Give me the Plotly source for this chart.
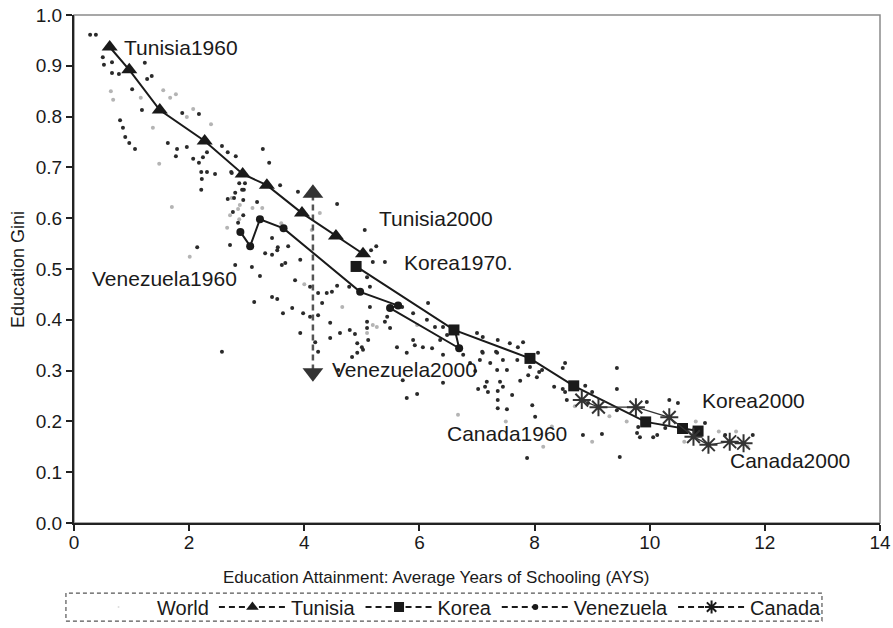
import plotly.graph_objects as go

# Country trajectories (average years of schooling vs. education Gini)
tunisia_x = [0.62, 0.96, 1.49, 2.27, 2.93, 3.35, 3.96, 4.55, 5.02]
tunisia_y = [0.937, 0.892, 0.813, 0.752, 0.687, 0.665, 0.610, 0.565, 0.530]

korea_x = [4.90, 6.60, 7.92, 8.68, 9.93, 10.57, 10.84]
korea_y = [0.505, 0.380, 0.324, 0.270, 0.199, 0.186, 0.181]

venezuela_x = [2.89, 3.06, 3.23, 3.64, 4.97, 5.63, 5.49, 6.69, 6.62]
venezuela_y = [0.573, 0.545, 0.598, 0.580, 0.455, 0.428, 0.423, 0.344, 0.378]

canada_x = [8.82, 9.11, 9.76, 10.34, 10.76, 11.02, 11.39, 11.63]
canada_y = [0.242, 0.228, 0.228, 0.208, 0.170, 0.154, 0.160, 0.157]

# World country-year observations
world_x = [0.28, 0.38, 0.50, 0.52, 0.66, 0.66, 0.78, 1.01, 1.23, 1.27, 1.35, 1.18,
           0.80, 0.85, 0.89, 0.96, 1.06, 1.63, 1.79, 1.77, 1.88, 2.17, 1.96, 2.07,
           2.17, 2.24, 2.21, 2.22, 2.31, 2.45, 2.57, 2.67, 2.81, 2.73, 2.87, 2.97,
           2.95, 2.80, 3.28, 3.39, 3.58, 3.89, 4.57, 2.67, 2.76, 2.94, 2.85, 2.14,
           2.71, 3.44, 3.54, 3.72, 2.21, 2.92, 2.94, 3.32, 3.44, 2.80, 3.09, 3.23,
           3.44, 3.53, 3.13, 2.57, 2.31, 2.74, 2.78, 3.18, 3.53, 3.61, 3.67, 3.93,
           5.05, 5.25, 5.16, 5.19, 5.40, 3.84, 4.10, 4.57, 4.48, 4.39, 4.24, 4.78,
           3.79, 3.98, 4.10, 4.24, 3.63, 4.88, 5.09, 5.11, 4.92, 5.02, 4.45, 4.19,
           4.24, 3.93, 4.83, 4.31, 5.09, 5.14, 4.45, 4.79, 4.62, 5.09, 5.14, 5.44,
           5.40, 5.49, 5.89, 6.15, 6.13, 6.27, 6.41, 6.48, 6.36, 5.61, 5.78, 5.89,
           6.06, 6.22, 7.00, 7.10, 7.36, 7.57, 7.71, 7.80, 8.06, 7.35, 7.10, 7.45,
           7.23, 7.70, 7.92, 8.13, 8.04, 5.00, 4.92, 4.59, 5.70, 8.53, 9.43, 5.92,
           6.41, 6.76, 7.09, 7.33, 6.88, 7.05, 5.71, 5.78, 5.96, 6.41, 6.97, 7.35,
           7.52, 7.89, 8.08, 7.75, 7.40, 7.17, 7.14, 7.02, 7.19, 7.36, 7.45, 7.61,
           7.36, 7.36, 7.52, 7.96, 8.01, 8.34, 8.49, 8.56, 8.88, 9.00, 9.43, 8.84,
           9.17, 9.48, 7.87, 9.78, 9.80, 10.06, 10.34, 10.49, 10.96, 10.27, 10.58,
           11.79, 8.49, 8.53, 8.93, 9.43, 9.95, 9.83, 10.13, 11.31]
world_y = [0.961, 0.961, 0.917, 0.902, 0.907, 0.886, 0.884, 0.854, 0.906, 0.874, 0.880, 0.813,
           0.793, 0.778, 0.760, 0.748, 0.736, 0.748, 0.736, 0.722, 0.807, 0.805, 0.740, 0.717,
           0.709, 0.720, 0.691, 0.677, 0.730, 0.687, 0.742, 0.730, 0.722, 0.691, 0.669, 0.669,
           0.656, 0.650, 0.736, 0.709, 0.665, 0.652, 0.628, 0.638, 0.612, 0.606, 0.591, 0.543,
           0.547, 0.561, 0.543, 0.545, 0.656, 0.656, 0.636, 0.531, 0.528, 0.508, 0.504, 0.486,
           0.445, 0.441, 0.435, 0.337, 0.691, 0.689, 0.640, 0.632, 0.537, 0.508, 0.512, 0.518,
           0.577, 0.545, 0.537, 0.514, 0.514, 0.478, 0.465, 0.467, 0.455, 0.453, 0.453, 0.465,
           0.423, 0.413, 0.406, 0.409, 0.413, 0.372, 0.384, 0.360, 0.354, 0.341, 0.364, 0.356,
           0.337, 0.374, 0.327, 0.433, 0.484, 0.465, 0.394, 0.380, 0.374, 0.396, 0.425, 0.406,
           0.396, 0.384, 0.413, 0.433, 0.400, 0.386, 0.386, 0.370, 0.360, 0.346, 0.335, 0.360,
           0.346, 0.344, 0.374, 0.366, 0.360, 0.354, 0.346, 0.356, 0.335, 0.335, 0.335, 0.321,
           0.315, 0.321, 0.307, 0.301, 0.287, 0.346, 0.335, 0.301, 0.425, 0.315, 0.305, 0.350,
           0.331, 0.331, 0.337, 0.337, 0.315, 0.321, 0.281, 0.246, 0.254, 0.276, 0.299, 0.301,
           0.301, 0.291, 0.297, 0.280, 0.278, 0.278, 0.268, 0.264, 0.258, 0.260, 0.268, 0.252,
           0.242, 0.226, 0.224, 0.232, 0.209, 0.268, 0.264, 0.242, 0.270, 0.258, 0.264, 0.173,
           0.175, 0.130, 0.128, 0.177, 0.189, 0.169, 0.242, 0.236, 0.197, 0.187, 0.183,
           0.173, 0.305, 0.258, 0.236, 0.222, 0.238, 0.169, 0.173, 0.173]

# Lighter-printed observations of the same world sample
world_faint_x = [0.64, 0.68, 1.16, 1.55, 1.67, 1.77, 1.37, 1.48, 1.96, 2.07, 2.38,
                 4.27, 4.13, 2.88, 2.66, 1.70, 2.74, 2.85, 2.71, 2.87, 3.27, 2.01,
                 4.66, 5.09, 5.26, 5.96, 5.19, 6.67, 8.15, 8.70, 9.30, 9.60, 10.80,
                 11.20, 11.50, 11.70, 8.30, 9.00, 10.60, 7.50, 3.60, 3.10, 4.00]
world_faint_y = [0.850, 0.833, 0.837, 0.852, 0.837, 0.844, 0.778, 0.707, 0.799, 0.815, 0.785,
                 0.610, 0.577, 0.626, 0.581, 0.622, 0.640, 0.618, 0.606, 0.598, 0.620, 0.524,
                 0.425, 0.374, 0.386, 0.390, 0.390, 0.213, 0.150, 0.230, 0.210, 0.200, 0.200,
                 0.180, 0.180, 0.150, 0.190, 0.160, 0.160, 0.200, 0.590, 0.620, 0.470]

# Range of Gini values spanned at about four years of schooling
spread_x = 4.15
spread_lo, spread_hi = 0.28, 0.665

# Endpoint labels
label_text = ["Tunisia1960", "Tunisia2000", "Korea1970.", "Venezuela1960",
              "Venezuela2000", "Canada1960", "Korea2000", "Canada2000"]
label_x = [0.84, 5.26, 5.70, 0.28, 4.45, 6.44, 10.87, 11.36]
label_y = [0.937, 0.600, 0.512, 0.482, 0.303, 0.177, 0.242, 0.124]

series_names = ["World", "Tunisia", "Korea", "Venezuela", "Canada"]
x_ticks = [0, 2, 4, 6, 8, 10, 12, 14]
y_ticks = [round(0.1 * i, 1) for i in range(11)]

FONT = "Liberation Sans, Arial, sans-serif"
INK = "#1a1a1a"

fig = go.Figure()

fig.add_trace(go.Scatter(x=world_faint_x, y=world_faint_y, mode="markers",
                         marker=dict(size=4, color="#b4b4b4"), showlegend=False,
                         hoverinfo="skip"))
fig.add_trace(go.Scatter(x=world_x, y=world_y, mode="markers",
                         marker=dict(size=4, color="#2a2a2a"), showlegend=False))

# dashed spread arrow
fig.add_trace(go.Scatter(x=[spread_x, spread_x], y=[spread_lo + 0.02, spread_hi - 0.02],
                         mode="lines", line=dict(color="#555555", width=2.5, dash="6px,4px"),
                         showlegend=False, hoverinfo="skip"))
fig.add_trace(go.Scatter(x=[spread_x], y=[spread_hi - 0.016], mode="markers",
                         marker=dict(symbol="triangle-up", size=18, color="#333333"),
                         showlegend=False, hoverinfo="skip"))
fig.add_trace(go.Scatter(x=[spread_x], y=[spread_lo + 0.016], mode="markers",
                         marker=dict(symbol="triangle-down", size=18, color="#333333"),
                         showlegend=False, hoverinfo="skip"))

fig.add_trace(go.Scatter(x=venezuela_x, y=venezuela_y, mode="lines+markers",
                         line=dict(color=INK, width=2),
                         marker=dict(symbol="circle", size=8, color=INK),
                         showlegend=False))
fig.add_trace(go.Scatter(x=korea_x, y=korea_y, mode="lines+markers",
                         line=dict(color=INK, width=2),
                         marker=dict(symbol="square", size=11, color=INK),
                         showlegend=False))
fig.add_trace(go.Scatter(x=tunisia_x, y=tunisia_y, mode="lines+markers",
                         line=dict(color=INK, width=2),
                         marker=dict(symbol="triangle-up", size=14, color=INK),
                         showlegend=False))
fig.add_trace(go.Scatter(x=canada_x, y=canada_y, mode="lines+markers",
                         line=dict(color="#333333", width=1.3),
                         marker=dict(symbol="asterisk-open", size=15,
                                     line=dict(color=INK, width=2)),
                         showlegend=False))

# legend entries
legend_styles = [
    dict(mode="markers", marker=dict(size=2, color="#dddddd")),
    dict(mode="lines+markers", line=dict(color=INK, width=2, dash="6px,4px"),
         marker=dict(symbol="triangle-up", size=11, color=INK)),
    dict(mode="lines+markers", line=dict(color=INK, width=2, dash="6px,4px"),
         marker=dict(symbol="square", size=10, color=INK)),
    dict(mode="lines+markers", line=dict(color=INK, width=2, dash="6px,4px"),
         marker=dict(symbol="circle", size=6, color=INK)),
    dict(mode="lines+markers", line=dict(color=INK, width=2, dash="6px,4px"),
         marker=dict(symbol="asterisk-open", size=11, line=dict(color=INK, width=2))),
]
for name, style in zip(series_names, legend_styles):
    fig.add_trace(go.Scatter(x=[None], y=[None], name=name, showlegend=True, **style))

for t, lx, ly in zip(label_text, label_x, label_y):
    fig.add_annotation(x=lx, y=ly, text=t, showarrow=False, xanchor="left",
                       yanchor="middle", font=dict(size=21, color=INK, family=FONT))

# axis titles
fig.add_annotation(xref="paper", yref="paper", x=0.45, y=-0.108, showarrow=False,
                   text="Education Attainment: Average Years of Schooling (AYS)",
                   xanchor="center", yanchor="middle", font=dict(size=17, color=INK, family=FONT))
fig.add_annotation(xref="paper", yref="paper", x=-0.0695, y=0.5, showarrow=False,
                   text="Education Gini", textangle=-90,
                   xanchor="center", yanchor="middle", font=dict(size=18, color=INK, family=FONT))

# plot-area frame and dashed legend box
fig.add_shape(type="rect", xref="paper", yref="paper", x0=0, x1=1, y0=0, y1=1,
              line=dict(color="#8a8a8a", width=1.5), layer="below")
fig.add_shape(type="rect", xref="paper", yref="paper", x0=-0.010, x1=0.928,
              y0=-0.193, y1=-0.138, line=dict(color="#555555", width=1.2, dash="4px,3px"))

axis_common = dict(showgrid=False, zeroline=False, showline=True, linecolor="#222222",
                   linewidth=2, ticks="outside", ticklen=6, tickwidth=1.5,
                   tickcolor="#222222", tickfont=dict(size=19), automargin=False)

fig.update_layout(
    width=893, height=628,
    margin=dict(l=74, r=13, t=15, b=105),
    paper_bgcolor="white", plot_bgcolor="white",
    font=dict(family=FONT, color=INK, size=16),
    legend=dict(orientation="h", x=0.0075, xanchor="left",
                yref="container", y=0.0334, yanchor="middle",
                font=dict(size=20, family=FONT, color=INK), itemwidth=67,
                bgcolor="rgba(0,0,0,0)", traceorder="normal"),
    xaxis=dict(range=[0, 14], tickvals=x_ticks, ticktext=[str(v) for v in x_ticks],
               ticklabelstandoff=-5, **axis_common),
    yaxis=dict(range=[0, 1.0], tickvals=y_ticks, ticktext=[f"{v:.1f}" for v in y_ticks],
               **axis_common),
)

fig.write_html("out.html")
